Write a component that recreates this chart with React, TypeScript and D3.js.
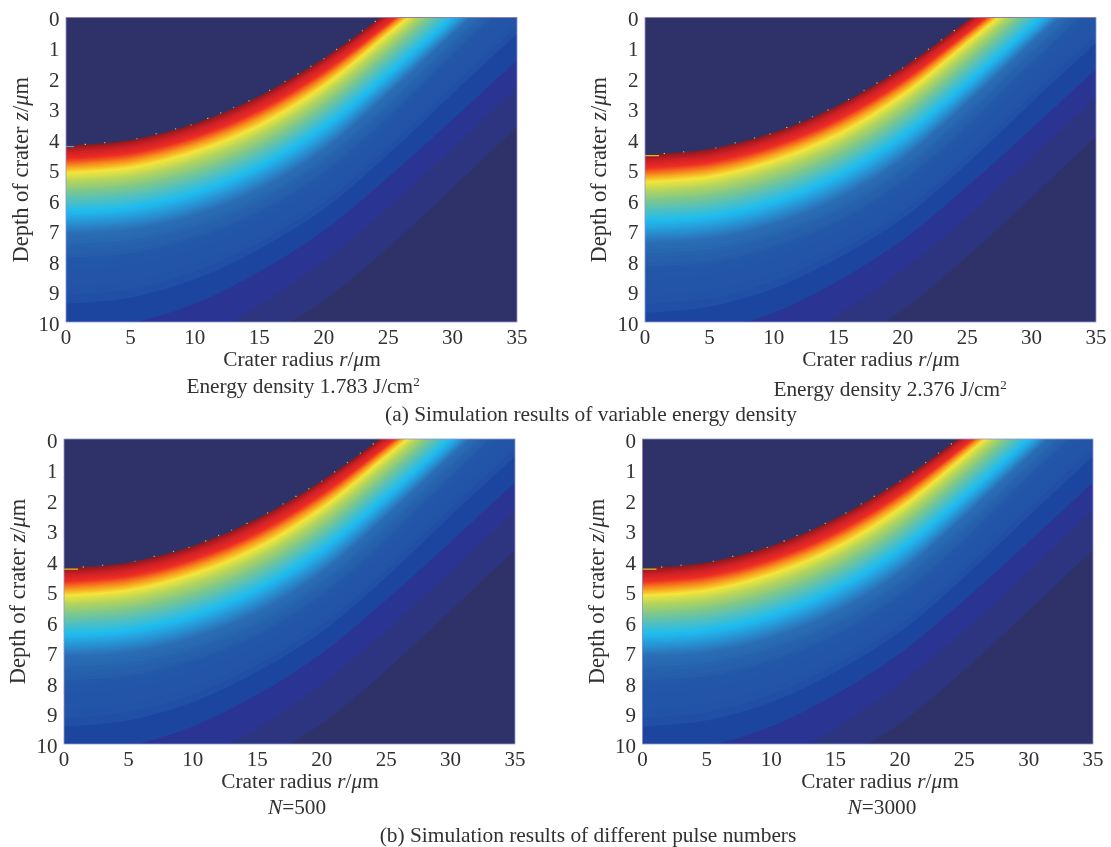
import React from "react";
import * as d3 from "d3";

const radii = [0, 5, 10, 15, 20, 25, 30, 35];
const xTicks = [0, 5, 10, 15, 20, 25, 30, 35];
const zTicks = [0, 1, 2, 3, 4, 5, 6, 7, 8, 9, 10];

// Iso-depth curves (a, left), z at each radius
const craterEdge = [4.25, 4.06, 3.52, 2.62, 1.38, -0.15, -1.85, -3.5];
const isoDarkRed = [4.4, 4.22, 3.68, 2.78, 1.53, -0.03, -1.7, -3.35];
const isoRed = [4.65, 4.47, 3.94, 3.06, 1.8, 0.2, -1.5, -3.2];
const isoOrange = [4.9, 4.72, 4.18, 3.3, 2.03, 0.37, -1.35, -3.1];
const isoYellow = [5.12, 4.95, 4.42, 3.56, 2.26, 0.55, -1.2, -3.0];
const isoLime = [5.4, 5.24, 4.72, 3.86, 2.56, 0.84, -1.0, -2.85];
const isoGreen = [5.75, 5.6, 5.1, 4.24, 2.94, 1.2, -0.65, -2.5];
const isoTeal = [6.1, 5.96, 5.46, 4.6, 3.3, 1.56, -0.3, -2.2];
const isoCyan = [6.4, 6.27, 5.78, 4.92, 3.62, 1.88, 0.0, -1.9];
const isoSky = [6.65, 6.52, 6.04, 5.18, 3.9, 2.12, 0.22, -1.65];
const isoBlue1 = [7.1, 6.98, 6.5, 5.66, 4.36, 2.52, 0.55, -1.35];
const isoBlue2 = [8.0, 7.86, 7.35, 6.5, 5.2, 3.4, 1.3, -0.7];
const isoBlue3 = [9.4, 9.2, 8.6, 7.6, 6.3, 4.5, 2.5, 0.54];
const isoBlue4 = [10.25, 10.03, 9.4, 8.35, 7.0, 5.25, 3.35, 1.4];
const isoIndigo = [11.7, 11.4, 10.6, 9.45, 8.0, 6.25, 4.3, 2.3];
const isoNavy = [12.9, 12.6, 11.85, 10.6, 9.3, 7.55, 5.6, 3.6];

const isoCurves = [
  isoNavy, isoIndigo, isoBlue4, isoBlue3, isoBlue2, isoBlue1, isoSky, isoCyan,
  isoTeal, isoGreen, isoLime, isoYellow, isoOrange, isoRed, isoDarkRed, craterEdge,
];
const isoColors = [
  "#2d3580", "#2b3493", "#1f44a0", "#2050a6", "#2459a8", "#2b6fb6", "#27a0de", "#1ebcef",
  "#4bbfc6", "#7cc78d", "#b7d55a", "#f5e63a", "#f8941d", "#ee2c25", "#c41f26", "#8c1b1e",
];
const isoSteps = [1, 1, 1, 5, 8, 8, 5, 6, 6, 6, 6, 8, 8, 6, 4];

const dotRadii = [1.5, 3, 5.5, 7, 8.5, 9.7, 11, 12, 13, 14.2, 15.8, 17, 18, 19, 20, 21, 22, 23, 24];
const dotColors = ["#d9d24a", "#7cc78d", "#3ca9dc", "#c9b84a", "#7cc78d", "#e8842d"];

const panelNames = ["a1", "a2", "b1", "b2"];
const panelShift = [0, 0.3, 0.03, 0.03];
const panelXLabel = ["Crater radius ", "Crater radius ", "Crater radius ", "Crater radius "];
const panelCaptions = ["Energy density 1.783 J/cm", "Energy density 2.376 J/cm", "=500", "=3000"];
const groupTitles = ["(a) Simulation results of variable energy density", "(b) Simulation results of different pulse numbers"];

const frames = [
  { x0: 66, x1: 517, y0: 17.5, y1: 322, yl: 28, ticksY: 344, labelX: 302, labelY: 366, capY: 393, capX: 303 },
  { x0: 645, x1: 1096, y0: 17.5, y1: 322, yl: 606, ticksY: 344, labelX: 881, labelY: 366, capY: 396, capX: 890 },
  { x0: 64, x1: 515, y0: 439, y1: 744, yl: 25, ticksY: 766, labelX: 300, labelY: 788, capY: 814, capX: 297 },
  { x0: 642.5, x1: 1093, y0: 439, y1: 744, yl: 604, ticksY: 766, labelX: 880, labelY: 788, capY: 814, capX: 882 },
];

const serif = "'Liberation Serif', 'Times New Roman', serif";
const ink = "#303030";

function Panel({ index }: { index: number }) {
  const f = frames[index];
  const shift = panelShift[index];
  const x = d3.scaleLinear().domain([0, 35]).range([f.x0, f.x1]);
  const y = d3.scaleLinear().domain([0, 10]).range([f.y0, f.y1]);
  const area = d3
    .area<number>()
    .x((_, i) => x(radii[i]))
    .y0(f.y0)
    .y1((d) => y(d + shift))
    .curve(d3.curveCatmullRom);

  const layers: { d: string; fill: string }[] = [];
  isoCurves.slice(0, -1).forEach((outer, k) => {
    const inner = isoCurves[k + 1];
    const mixColor = d3.interpolateRgb(isoColors[k], isoColors[k + 1]);
    const n = isoSteps[k];
    for (let s = 0; s < n; s++) {
      const t = s / n;
      layers.push({
        d: area(outer.map((v, i) => v + (inner[i] - v) * t)) || "",
        fill: mixColor(t),
      });
    }
  });
  const edge = d3.scaleLinear().domain(radii).range(craterEdge);
  const clipId = `clip-${panelNames[index]}`;
  const yLabelCenter = (f.y0 + f.y1) / 2;

  return (
    <g fontFamily={serif} fill={ink}>
      <clipPath id={clipId}>
        <rect x={f.x0} y={f.y0} width={f.x1 - f.x0} height={f.y1 - f.y0} />
      </clipPath>
      <g clipPath={`url(#${clipId})`}>
        <rect x={f.x0} y={f.y0} width={f.x1 - f.x0} height={f.y1 - f.y0} fill="#2f3369" />
        {layers.map((l, i) => (
          <path key={i} d={l.d} fill={l.fill} />
        ))}
        <path d={area(craterEdge) || ""} fill="#8c1b1e" />
        <path d={area(craterEdge.map((v) => v - 0.04)) || ""} fill="#2f3369" />
        {dotRadii.map((r, i) => (
          <rect
            key={i}
            x={x(r) - 0.6}
            y={y(edge(r) + shift) - 1.4}
            width={1.2}
            height={1.2}
            fill={dotColors[i % dotColors.length]}
          />
        ))}
        <rect x={x(0)} y={y(craterEdge[0] + shift) - 1} width={index === 0 ? 8 : 14} height={1.2} fill={index === 0 ? "#3ca9dc" : "#c9c93a"} />
      </g>
      <rect x={f.x0} y={f.y0} width={f.x1 - f.x0} height={f.y1 - f.y0} fill="none" stroke="#8f96d0" strokeWidth={0.8} />
      {zTicks.map((t) => (
        <text key={t} x={f.x0 - 6.5} y={y(t) + 8.5} textAnchor="end" fontSize={21}>
          {t}
        </text>
      ))}
      {xTicks.map((t) => (
        <text key={t} x={x(t)} y={f.ticksY} textAnchor="middle" fontSize={21}>
          {t}
        </text>
      ))}
      <text x={f.labelX} y={f.labelY} textAnchor="middle" fontSize={21.3}>
        {panelXLabel[index]}
        <tspan fontStyle="italic">r</tspan>/<tspan fontStyle="italic">μ</tspan>m
      </text>
      <text x={f.capX} y={f.capY} textAnchor="middle" fontSize={21.3}>
        {index >= 2 && <tspan fontStyle="italic">N</tspan>}
        {panelCaptions[index]}
        {index < 2 && <tspan fontSize={13} dy={-7}>2</tspan>}
      </text>
      <text
        transform={`translate(${f.yl},${yLabelCenter}) rotate(-90)`}
        textAnchor="middle"
        fontSize={22.5}
      >
        Depth of crater <tspan fontStyle="italic">z</tspan>/<tspan fontStyle="italic">μ</tspan>m
      </text>
    </g>
  );
}

export default function App() {
  return (
    <svg
      width={1111}
      height={847}
      viewBox="0 0 1111 847"
      style={{ position: "absolute", left: 0, top: 0, background: "#fff" }}
    >
      <defs>
        <filter id="soft" x="0" y="0" width="100%" height="100%">
          <feGaussianBlur stdDeviation="0.45" />
        </filter>
      </defs>
      <g filter="url(#soft)">
        {frames.map((_, i) => (
          <Panel key={i} index={i} />
        ))}
        <g fontFamily={serif} fill={ink} fontSize={21.4} textAnchor="middle">
          <text x={591} y={421}>{groupTitles[0]}</text>
          <text x={588} y={842}>{groupTitles[1]}</text>
        </g>
      </g>
    </svg>
  );
}
